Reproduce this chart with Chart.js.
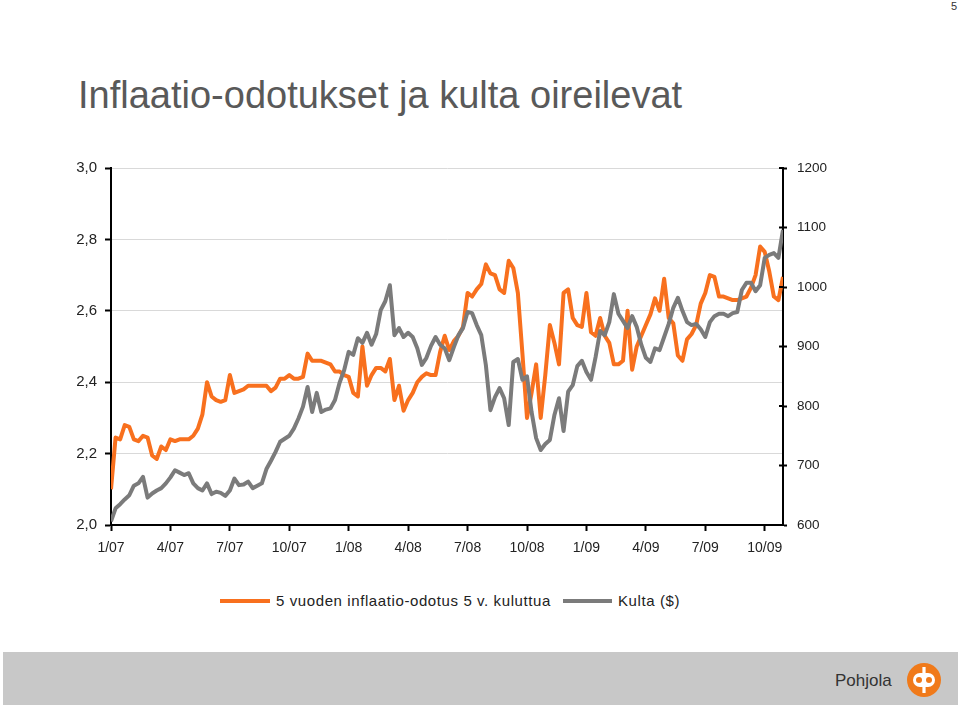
<!DOCTYPE html>
<html>
<head>
<meta charset="utf-8">
<script src="https://cdn.jsdelivr.net/npm/chart.js@4.4.1/dist/chart.umd.min.js"></script>
<style>
  html, body { margin: 0; padding: 0; background: #fff; }
  body { width: 960px; height: 706px; position: relative; overflow: hidden; font-family: "Liberation Sans", Arial, sans-serif; }
  #c { position: absolute; left: 0; top: 0; }
  .title { position: absolute; left: 78px; top: 76px; font-size: 38px; line-height: 38px; color: #595959; white-space: nowrap; }
  .pagenum { position: absolute; right: 3px; top: 0px; font-size: 11px; color: #333; }
  .legend { position: absolute; top: 592px; left: 220px; height: 18px; font-size: 15px; letter-spacing: 0.6px; color: #222; white-space: nowrap; }
  .legend .item { position: absolute; top: 0; line-height: 18px; }
  .legend .sw { position: absolute; top: 7px; height: 4px; }
  .footer { position: absolute; left: 3px; top: 652px; width: 955px; height: 53px; background: #c8c8c8; }
  .brand { position: absolute; left: 835px; top: 670px; font-size: 17px; line-height: 22px; color: #333; }
  .logo { position: absolute; left: 907px; top: 663px; }
</style>
</head>
<body>
<div class="pagenum">5</div>
<div class="title">Inflaatio-odotukset ja kulta oireilevat</div>
<canvas id="c" width="960" height="580"></canvas>
<div class="legend">
  <div class="sw" style="left:0px;width:50px;background:#F8701E"></div>
  <div class="item" style="left:56px">5 vuoden inflaatio-odotus 5 v. kuluttua</div>
  <div class="sw" style="left:343px;width:49px;background:#7B7B7B"></div>
  <div class="item" style="left:398px">Kulta ($)</div>
</div>
<div class="footer"></div>
<div class="brand">Pohjola</div>
<svg class="logo" width="34" height="34" viewBox="-17 -17 34 34">
  <circle cx="0" cy="0" r="17" fill="#F07A1A"/>
  <rect x="-11" y="-7" width="22" height="14" rx="7" fill="#fff"/>
  <circle cx="-5" cy="0" r="3" fill="#F07A1A"/>
  <circle cx="5" cy="0" r="3" fill="#F07A1A"/>
  <rect x="-1.6" y="-13" width="3.2" height="26" fill="#fff"/>
</svg>
<script>
// Weekly observations, Jan 2007 .. end Nov 2009 (index = week number)
const inflationExpectation = [
  2.10, 2.245, 2.24, 2.28, 2.275, 2.24, 2.235, 2.25, 2.245, 2.195,
  2.185, 2.22, 2.21, 2.24, 2.235, 2.24, 2.24, 2.24, 2.25, 2.27,
  2.31, 2.40, 2.36, 2.35, 2.345, 2.35, 2.42, 2.37, 2.375, 2.38,
  2.39, 2.39, 2.39, 2.39, 2.39, 2.375, 2.385, 2.41, 2.41, 2.42,
  2.41, 2.41, 2.415, 2.48, 2.46, 2.46, 2.46, 2.455, 2.45, 2.43,
  2.43, 2.42, 2.415, 2.37, 2.36, 2.50, 2.39, 2.42, 2.44, 2.44,
  2.43, 2.465, 2.35, 2.39, 2.32, 2.35, 2.37, 2.40, 2.415, 2.425,
  2.42, 2.42, 2.485, 2.53, 2.49, 2.515, 2.53, 2.555, 2.65, 2.64,
  2.66, 2.675, 2.73, 2.705, 2.70, 2.66, 2.65, 2.74, 2.72, 2.65,
  2.48, 2.30, 2.37, 2.45, 2.30, 2.42, 2.56, 2.51, 2.45, 2.65,
  2.66, 2.58, 2.56, 2.555, 2.65, 2.54, 2.53, 2.58, 2.53, 2.51,
  2.45, 2.45, 2.46, 2.60, 2.435, 2.50, 2.53, 2.56, 2.59, 2.635,
  2.60, 2.69, 2.58, 2.565, 2.475, 2.46, 2.52, 2.535, 2.56, 2.62,
  2.65, 2.70, 2.695, 2.64, 2.64, 2.635, 2.63, 2.63, 2.635, 2.64,
  2.665, 2.70, 2.78, 2.765, 2.71, 2.64, 2.63, 2.695
];
const goldPrice = [
  606, 628, 635, 643, 650, 666, 670, 681, 646, 653,
  658, 662, 670, 680, 692, 688, 684, 687, 670, 662,
  658, 670, 652, 656, 654, 649, 658, 678, 667, 668,
  673, 662, 666, 670, 694, 708, 723, 740, 745, 750,
  762, 779, 799, 832, 790, 822, 790, 794, 796, 810,
  839, 860, 891, 886, 914, 906, 923, 903, 921, 961,
  976, 1003, 919, 931, 916, 923, 916, 897, 869, 881,
  901, 916, 903, 897, 877, 899, 919, 931, 958, 956,
  936, 919, 869, 793, 815, 830, 813, 768, 874, 879,
  844, 850, 790, 746, 726, 736, 743, 785, 813, 758,
  824, 835, 867, 876, 857, 844, 882, 926, 919, 941,
  988, 955, 943, 931, 951, 933, 903, 881, 874, 897,
  894, 916, 938, 965, 982, 960, 941, 936, 938, 929,
  916, 941, 951, 955, 955, 951, 956, 958, 995, 1007,
  1007, 993, 1003, 1049, 1054, 1057, 1049, 1096
];
const tickWeeks = [0, 13, 26, 39, 52, 65, 78, 91, 104, 117, 130, 143];
const tickLabels = ["1/07", "4/07", "7/07", "10/07", "1/08", "4/08", "7/08", "10/08", "1/09", "4/09", "7/09", "10/09"];
const leftTicks = [2.0, 2.2, 2.4, 2.6, 2.8, 3.0];
const rightTicks = [600, 700, 800, 900, 1000, 1100, 1200];
const seriesNames = ["5 vuoden inflaatio-odotus 5 v. kuluttua", "Kulta ($)"];

const toPoints = arr => arr.map((v, i) => ({ x: i, y: v }));

const innerTicks = {
  id: 'innerTicks',
  afterDraw(chart) {
    const s = chart.scales.y2;
    const ctx = chart.ctx;
    ctx.save();
    ctx.strokeStyle = '#000';
    ctx.lineWidth = 2;
    s.ticks.forEach(t => {
      const y = s.getPixelForValue(t.value);
      ctx.beginPath();
      ctx.moveTo(s.left - 4, y);
      ctx.lineTo(s.left, y);
      ctx.stroke();
    });
    ctx.restore();
  }
};

const FONT = "'Liberation Sans', Arial, sans-serif";

new Chart(document.getElementById('c'), {
  type: 'line',
  data: {
    datasets: [
      {
        label: seriesNames[0],
        data: toPoints(inflationExpectation),
        yAxisID: 'y',
        borderColor: '#F8701E',
        borderWidth: 4,
        pointRadius: 0,
        tension: 0,
        borderJoinStyle: 'round',
        order: 1
      },
      {
        label: seriesNames[1],
        data: toPoints(goldPrice),
        yAxisID: 'y2',
        borderColor: '#7B7B7B',
        borderWidth: 4,
        pointRadius: 0,
        tension: 0,
        borderJoinStyle: 'round',
        order: 0
      }
    ]
  },
  options: {
    responsive: false,
    animation: false,
    devicePixelRatio: 1,
    layout: { padding: { top: 168, left: 0, right: 0, bottom: 0 } },
    plugins: { legend: { display: false }, tooltip: { enabled: false }, title: { display: false } },
    scales: {
      x: {
        type: 'linear',
        min: 0,
        max: inflationExpectation.length - 1,
        afterBuildTicks: s => { s.ticks = tickWeeks.map(v => ({ value: v })); },
        afterFit: s => { s.height = 55; },
        ticks: {
          autoSkip: false,
          maxRotation: 0,
          padding: 9,
          color: '#222',
          font: { family: FONT, size: 14 },
          callback: v => tickLabels[tickWeeks.indexOf(v)]
        },
        grid: { drawOnChartArea: false, tickLength: 6, tickColor: '#000', tickWidth: 2 },
        border: { color: '#000', width: 2 }
      },
      y: {
        position: 'left',
        min: 2.0,
        max: 3.0,
        afterBuildTicks: s => { s.ticks = leftTicks.map(v => ({ value: v })); },
        afterFit: s => { s.width = 111; },
        ticks: {
          padding: 8,
          color: '#222',
          font: { family: FONT, size: 15 },
          callback: v => v.toFixed(1).replace('.', ',')
        },
        grid: { color: '#d9d9d9', lineWidth: 1, tickLength: 6, tickColor: '#000', tickWidth: 2 },
        border: { color: '#000', width: 2 }
      },
      y2: {
        position: 'right',
        min: 600,
        max: 1200,
        afterBuildTicks: s => { s.ticks = rightTicks.map(v => ({ value: v })); },
        afterFit: s => { s.width = 177; },
        ticks: {
          padding: 10,
          color: '#222',
          font: { family: FONT, size: 13.5 },
          callback: v => String(v)
        },
        grid: { drawOnChartArea: false, tickLength: 4, tickColor: '#000', tickWidth: 2 },
        border: { color: '#000', width: 2 }
      }
    }
  },
  plugins: [innerTicks]
});
</script>
</body>
</html>
